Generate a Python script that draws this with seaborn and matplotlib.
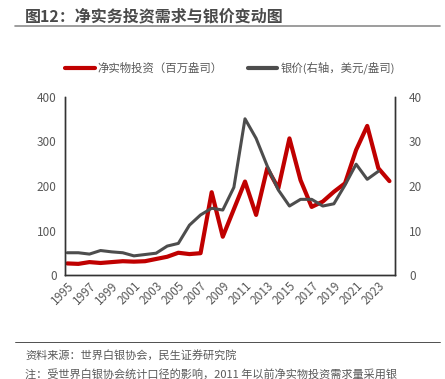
import pandas as pd
import matplotlib.pyplot as plt
import matplotlib.lines as mlines
import seaborn as sns

years = list(range(1995, 2025))
invest = [26, 25, 29, 27, 29, 31, 30, 31, 36, 41, 50, 47, 49, 186, 86, 148, 210,
          135, 240, 195, 307, 213, 153, 165, 187, 206, 281, 335, 240, 211]
silver_years = list(range(1995, 2024))
silver = [5.0, 5.0, 4.7, 5.5, 5.2, 5.0, 4.3, 4.6, 4.9, 6.5, 7.1, 11.2, 13.5, 15.0,
          14.6, 19.7, 35.1, 30.7, 24.5, 19.1, 15.5, 17.0, 17.0, 15.5, 16.0, 20.2,
          24.9, 21.5, 23.3]
tick_years = list(range(1995, 2024, 2))

RED = "#C00000"
GRAY = "#4D4D4D"
TXT = "#595959"

sns.set_theme(style="white")
plt.rcParams["font.family"] = ["Noto Sans CJK SC", "DejaVu Sans"]

df_inv = pd.DataFrame({"year": years, "value": invest})
df_ag = pd.DataFrame({"year": silver_years, "value": silver})

fig = plt.figure(figsize=(4.45, 3.79), dpi=100)
ax = fig.add_axes([65 / 445, 1 - 275 / 379, 330 / 445, 178 / 379])
ax2 = ax.twinx()

sns.lineplot(data=df_inv, x="year", y="value", ax=ax, color=RED, linewidth=3.0)
sns.lineplot(data=df_ag, x="year", y="value", ax=ax2, color=GRAY, linewidth=2.2)

ax.set_xlim(1994.8, 2024.5)
ax.set_ylim(0, 400)
ax2.set_ylim(0, 40)
ax.set_yticks([0, 100, 200, 300, 400])
ax2.set_yticks([0, 10, 20, 30, 40])
ax.set_xticks(tick_years)
ax.set_xticklabels([str(y) for y in tick_years], rotation=45, ha="right",
                   rotation_mode="anchor")
for a in (ax, ax2):
    a.set_xlabel("")
    a.set_ylabel("")
    a.tick_params(length=0, labelsize=8.5, labelcolor=TXT, pad=6)
    a.spines["top"].set_visible(False)
    for s in ("left", "right", "bottom"):
        a.spines[s].set_color("#333333")
        a.spines[s].set_linewidth(1.0)
ax.tick_params(axis="x", pad=3)
ax2.tick_params(axis="y", pad=10)

h1 = mlines.Line2D([], [], color=RED, linewidth=3.0)
h2 = mlines.Line2D([], [], color=GRAY, linewidth=3.0)
fig.legend([h1, h2], ["净实物投资（百万盎司）", "银价(右轴，美元/盎司)"],
           loc="center", bbox_to_anchor=(230 / 445, 1 - 68 / 379), ncol=2, frameon=False,
           fontsize=8.2, handlelength=2.6, handletextpad=0.25, columnspacing=2.2,
           labelcolor=TXT)

fig.text(25 / 445, 1 - 16 / 379, "图12：净实务投资需求与银价变动图", fontsize=11.5,
         fontweight="bold", color="#4A4A4A", va="center")
fig.add_artist(mlines.Line2D([15 / 445, 440 / 445], [1 - 26 / 379, 1 - 26 / 379],
                             color="#8C8C8C", linewidth=1.2))
fig.add_artist(mlines.Line2D([15 / 445, 440 / 445], [1 - 342 / 379, 1 - 342 / 379],
                             color="#333333", linewidth=0.6))
fig.text(25 / 445, 1 - 355 / 379, "资料来源：世界白银协会，民生证券研究院", fontsize=8,
         color=TXT, va="center")
fig.text(25 / 445, 1 - 374 / 379,
         "注：受世界白银协会统计口径的影响，2011 年以前净实物投资需求量采用银",
         fontsize=8, color=TXT, va="center")

fig.savefig("out.png", dpi=100)
